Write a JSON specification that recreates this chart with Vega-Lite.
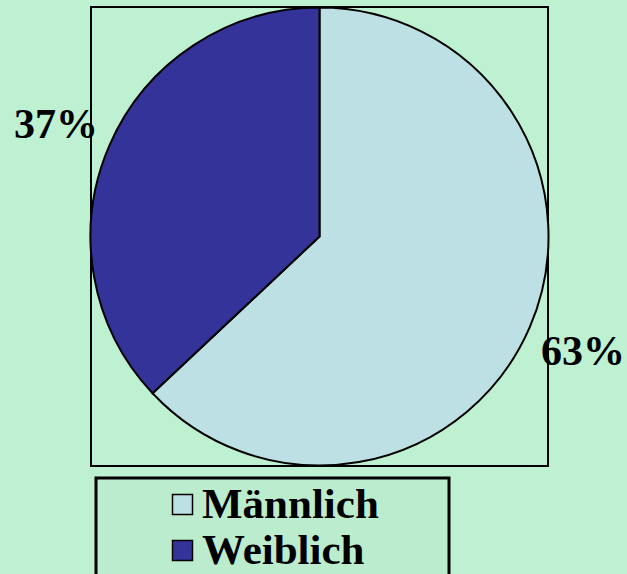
{
  "$schema": "https://vega.github.io/schema/vega-lite/v6.json",
  "width": 457,
  "height": 459,
  "autosize": "none",
  "padding": {"left": 91, "top": 7, "right": 79, "bottom": 108},
  "background": "#bdf1d1",
  "view": {"stroke": "black", "strokeWidth": 2},
  "config": {"view": {"stroke": "black", "strokeWidth": 2}, "legend": {"strokeWidth": 3}},
  "data": {
    "values": [
      {"Geschlecht": "Männlich", "Anteil": 63, "Label": "63%"},
      {"Geschlecht": "Weiblich", "Anteil": 37, "Label": "37%"}
    ]
  },
  "encoding": {
    "theta": {"field": "Anteil", "type": "quantitative", "stack": true},
    "order": {"field": "Geschlecht", "type": "nominal", "sort": "ascending"}
  },
  "layer": [
    {
      "mark": {"type": "arc", "outerRadius": 229, "stroke": "black", "strokeWidth": 2},
      "encoding": {
        "color": {
          "field": "Geschlecht",
          "type": "nominal",
          "scale": {"domain": ["Männlich", "Weiblich"], "range": ["#bce0e3", "#333399"]},
          "legend": {
            "title": null,
            "orient": "none",
            "legendX": 5,
            "legendY": 471,
            "direction": "vertical",
            "symbolType": "square",
            "symbolSize": 400,
            "symbolStrokeColor": "black",
            "symbolStrokeWidth": 1.5,
            "labelFont": "Liberation Serif",
            "labelFontWeight": "bold",
            "labelFontSize": 43,
            "labelColor": "black",
            "labelLimit": 500,
            "labelOffset": -2,
            "rowPadding": 2,
            "padding": 5,
            "symbolOffset": 60,
            "strokeColor": "black",
            "fillColor": "#bbecce",
            "labelExpr": "datum.label + '\u00a0\u00a0\u00a0\u00a0\u00a0\u00a0\u200b'"
          }
        }
      }
    },
    {
      "mark": {"type": "text", "radius": 287, "font": "Liberation Serif", "fontWeight": "bold", "fontSize": 42, "color": "black", "align": "center", "baseline": "middle", "dy": 2},
      "encoding": {
        "detail": {"field": "Geschlecht", "type": "nominal"},
        "text": {"field": "Label", "type": "nominal"}
      }
    }
  ]
}
